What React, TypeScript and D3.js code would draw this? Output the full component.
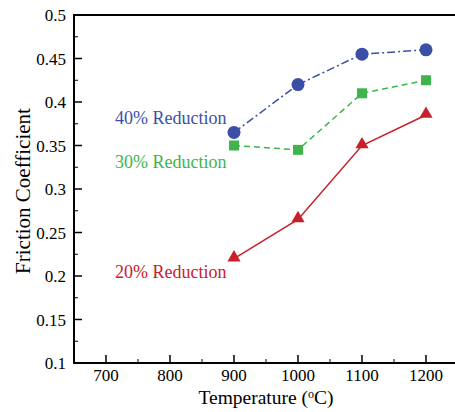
import React from "react";
import * as d3 from "d3";

const temps = [900, 1000, 1100, 1200];
const red40 = [0.365, 0.42, 0.455, 0.46];
const red30 = [0.35, 0.345, 0.41, 0.425];
const red20 = [0.22, 0.265, 0.35, 0.385];
const xTicks = [700, 800, 900, 1000, 1100, 1200];
const xMinor = [650, 750, 850, 950, 1050, 1150, 1250];
const yTicks = [0.1, 0.15, 0.2, 0.25, 0.3, 0.35, 0.4, 0.45, 0.5];
const yMinor = [0.125, 0.175, 0.225, 0.275, 0.325, 0.375, 0.425, 0.475];
const labels = ["40% Reduction", "30% Reduction", "20% Reduction"];

const W = 455, H = 412;
const L = 74, T = 15, B = 363;
const x = d3.scaleLinear().domain([650, 1250]).range([L, L + 384]);
const y = d3.scaleLinear().domain([0.1, 0.5]).range([B, T]);
const font = "Liberation Serif, serif";

const BLUE = "#3b4fa6";
const GREEN = "#3db54a";
const RED = "#c8202a";

export default function App() {
  const line = d3.line<number>().x((_, i) => x(temps[i])).y((d) => y(d));
  const tri = d3.symbol().type(d3.symbolTriangle).size(75)();
  return (
    <svg width={W} height={H} style={{ position: "absolute", left: 0, top: 0, fontFamily: font }}>
      <rect width={W} height={H} fill="#fff" />
      {/* frame */}
      <line x1={L} x2={W + 5} y1={T} y2={T} stroke="#000" strokeWidth={2} />
      <line x1={L} x2={W + 5} y1={B} y2={B} stroke="#000" strokeWidth={2} />
      <line x1={L} x2={L} y1={T - 1} y2={B + 1} stroke="#000" strokeWidth={2} />
      {/* y ticks */}
      {yTicks.map((t) => (
        <g key={t}>
          <line x1={L} x2={L + 8} y1={y(t)} y2={y(t)} stroke="#000" strokeWidth={1.5} />
          <text x={L - 8} y={y(t) + 6} fontSize={17} textAnchor="end">{t}</text>
        </g>
      ))}
      {yMinor.map((t) => (
        <line key={t} x1={L} x2={L + 4} y1={y(t)} y2={y(t)} stroke="#000" strokeWidth={1} />
      ))}
      {xTicks.map((t) => (
        <g key={t}>
          <line x1={x(t)} x2={x(t)} y1={B} y2={B - 8} stroke="#000" strokeWidth={1.5} />
          <text x={x(t)} y={B + 18} fontSize={17} textAnchor="middle">{t}</text>
        </g>
      ))}
      {xMinor.map((t) => (
        <line key={t} x1={x(t)} x2={x(t)} y1={B} y2={B - 4} stroke="#000" strokeWidth={1} />
      ))}
      {/* titles */}
      <text x={266} y={404} fontSize={19.5} textAnchor="middle">
        Temperature (<tspan dy={-6} fontSize={12}>o</tspan><tspan dy={6}>C)</tspan>
      </text>
      <text transform={`translate(30,191) rotate(-90)`} fontSize={21} textAnchor="middle">
        Friction Coefficient
      </text>
      {/* series */}
      <path d={line(red40) || ""} fill="none" stroke={BLUE} strokeWidth={1.5} strokeDasharray="8,3,2,3" />
      <path d={line(red30) || ""} fill="none" stroke={GREEN} strokeWidth={1.5} strokeDasharray="6,4" />
      <path d={line(red20) || ""} fill="none" stroke={RED} strokeWidth={1.5} />
      {red40.map((v, i) => (
        <circle key={i} cx={x(temps[i])} cy={y(v)} r={6.5} fill={BLUE} />
      ))}
      {red30.map((v, i) => (
        <rect key={i} x={x(temps[i]) - 5} y={y(v) - 5} width={10} height={10} fill={GREEN} />
      ))}
      {red20.map((v, i) => (
        <path key={i} d={tri || ""} transform={`translate(${x(temps[i])},${y(v) - 1})`} fill={RED} />
      ))}
      <text x={115} y={124} fontSize={18} fill={BLUE}>{labels[0]}</text>
      <text x={115} y={168} fontSize={18} fill={GREEN}>{labels[1]}</text>
      <text x={115} y={278} fontSize={18} fill={RED}>{labels[2]}</text>
    </svg>
  );
}
